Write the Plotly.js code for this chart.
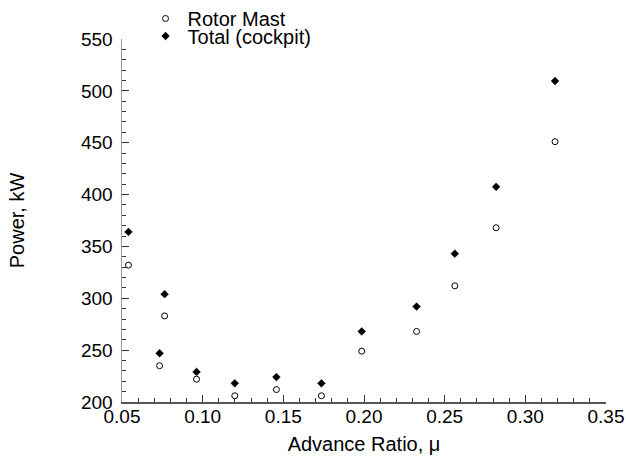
<!DOCTYPE html>
<html>
<head>
<meta charset="utf-8">
<script src="https://cdn.plot.ly/plotly-3.0.1.min.js"></script>
<style>html,body{margin:0;padding:0;background:#fff;}#chart{width:626px;height:459px;}</style>
</head>
<body>
<div id="chart"></div>
<script>
// Advance ratio values (same for both series)
const advanceRatio = [0.054, 0.0733, 0.0764, 0.0962, 0.1199, 0.1457, 0.1736, 0.1986, 0.2326, 0.2563, 0.2819, 0.3184];
// Power, kW
const rotorMast = [332, 235, 283, 222, 206, 212, 206, 249, 268, 312, 368, 451];
const totalCockpit = [364, 247, 304, 229, 218, 224, 218, 268, 292, 343, 407.5, 509.5];
const seriesNames = ["Rotor Mast", "Total (cockpit)"];
const xTickVals = [0.05, 0.10, 0.15, 0.20, 0.25, 0.30, 0.35];
const xTickText = ["0.05", "0.10", "0.15", "0.20", "0.25", "0.30", "0.35"];
const yTickVals = [200, 250, 300, 350, 400, 450, 500, 550];

const FONT = "Liberation Sans, Arial, Helvetica, sans-serif";

const traces = [
  {
    x: advanceRatio, y: rotorMast, name: seriesNames[0],
    type: "scatter", mode: "markers", cliponaxis: false,
    marker: {symbol: "circle-open", size: 6, color: "#000", line: {width: 1, color: "#000"}},
    legend: "legend"
  },
  {
    x: advanceRatio, y: totalCockpit, name: seriesNames[1],
    type: "scatter", mode: "markers", cliponaxis: false,
    marker: {symbol: "diamond", size: 6, color: "#000", line: {width: 0.5, color: "#000"}},
    legend: "legend2"
  }
];

const legendCommon = {
  font: {family: FONT, size: 20, color: "#000"},
  bgcolor: "rgba(0,0,0,0)", borderwidth: 0,
  xanchor: "left", yanchor: "middle", itemwidth: 34
};

const layout = {
  width: 626, height: 459,
  margin: {l: 122, r: 20, t: 39, b: 57, pad: 0, autoexpand: false},
  paper_bgcolor: "#fff", plot_bgcolor: "#fff",
  font: {family: FONT, color: "#000"},
  showlegend: true,
  legend: Object.assign({}, legendCommon, {x: 0.0445, y: 1.0565}),
  legend2: Object.assign({}, legendCommon, {x: 0.0445, y: 1.0083}),
  xaxis: {
    range: [0.05, 0.35], tickvals: xTickVals, ticktext: xTickText,
    showgrid: false, zeroline: false, showline: true, linecolor: "#555", linewidth: 1.5,
    ticks: "inside", ticklen: 7, tickwidth: 1, tickcolor: "#333",
    minor: {dtick: 0.01, ticks: "inside", ticklen: 4, tickwidth: 1, tickcolor: "#333", showgrid: false},
    tickfont: {family: FONT, size: 19, color: "#000"},
    ticklabelstandoff: -3,
    title: {text: "Advance Ratio, \u03bc", font: {family: FONT, size: 20, color: "#000"}, standoff: 10},
    automargin: false
  },
  yaxis: {
    range: [200, 550], tickvals: yTickVals,
    showgrid: false, zeroline: false, showline: true, linecolor: "#999", linewidth: 1.5,
    ticks: "inside", ticklen: 7, tickwidth: 1, tickcolor: "#333",
    minor: {dtick: 10, ticks: "inside", ticklen: 4, tickwidth: 1, tickcolor: "#333", showgrid: false},
    tickfont: {family: FONT, size: 19, color: "#000"},
    ticklabelstandoff: 4,
    title: {text: "Power, kW", font: {family: FONT, size: 20, color: "#000"}, standoff: 51},
    automargin: false
  }
};

Plotly.newPlot("chart", traces, layout, {displayModeBar: false, staticPlot: true});
</script>
</body>
</html>
